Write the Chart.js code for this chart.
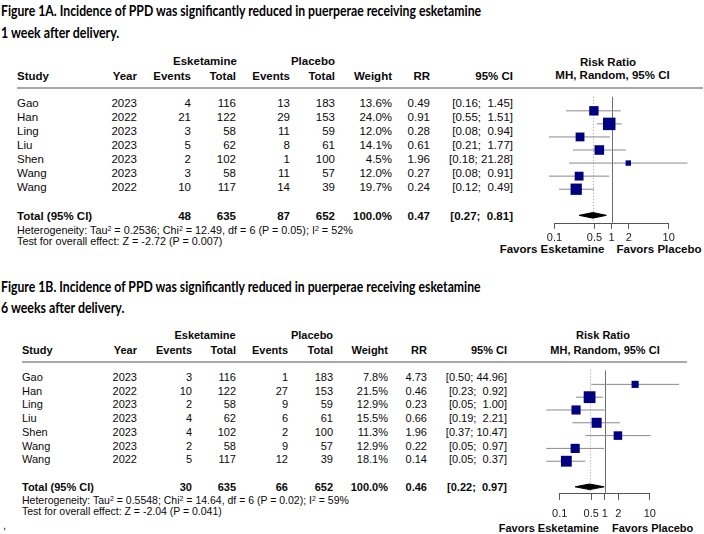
<!DOCTYPE html>
<html><head><meta charset="utf-8">
<script src="https://cdn.jsdelivr.net/npm/chart.js@4/dist/chart.umd.min.js"></script>
<style>
html,body{margin:0;padding:0;background:#fff;}
#page{position:relative;width:704px;height:534px;overflow:hidden;font-family:"Liberation Sans",Arial,sans-serif;font-size:11px;color:#0a0a0a;}
.t{position:absolute;white-space:pre;line-height:13px;}
.b{font-weight:bold;}
.tight{line-height:10px;}
.title{font-family:Lato,"Open Sans",sans-serif;font-weight:bold;font-size:16px;color:#000;transform-origin:0 50%;line-height:18px;}
sup{font-size:7px;line-height:0;vertical-align:3px;}
canvas{position:absolute;}
.rule{position:absolute;height:2px;background:#a8a8a8;}
</style></head><body><div id="page"></div>
<script>
// ---------- data ----------
const studies = ["Gao","Han","Ling","Liu","Shen","Wang","Wang"];
const years = [2023,2022,2023,2023,2023,2023,2022];
const esketTotal = [116,122,58,62,102,58,117];
const placeboTotal = [183,153,59,61,100,57,39];

// Figure 1A (1 week)
const esketEvents1 = [4,21,3,5,2,3,10];
const placeboEvents1 = [13,29,11,8,1,11,14];
const weight1 = [13.6,24.0,12.0,14.1,4.5,12.0,19.7];
const rr1 = [0.49,0.91,0.28,0.61,1.96,0.27,0.24];
const ciLow1 = [0.16,0.55,0.08,0.21,0.18,0.08,0.12];
const ciHigh1 = [1.45,1.51,0.94,1.77,21.28,0.91,0.49];
const totals1 = [48,635,87,652];
const pooled1 = [0.47,0.27,0.81];   // RR, low, high
const het1 = "Heterogeneity: Tau<sup>2</sup> = 0.2536; Chi<sup>2</sup> = 12.49, df = 6 (P = 0.05); I<sup>2</sup> = 52%";
const test1 = "Test for overall effect: Z = -2.72 (P = 0.007)";

// Figure 1B (6 weeks)
const esketEvents2 = [3,10,2,4,4,2,5];
const placeboEvents2 = [1,27,9,6,2,9,12];
const weight2 = [7.8,21.5,12.9,15.5,11.3,12.9,18.1];
const rr2 = [4.73,0.46,0.23,0.66,1.96,0.22,0.14];
const ciLow2 = [0.50,0.23,0.05,0.19,0.37,0.05,0.05];
const ciHigh2 = [44.96,0.92,1.00,2.21,10.47,0.97,0.37];
const totals2 = [30,635,66,652];
const pooled2 = [0.46,0.22,0.97];
const het2 = "Heterogeneity: Tau<sup>2</sup> = 0.5548; Chi<sup>2</sup> = 14.64, df = 6 (P = 0.02); I<sup>2</sup> = 59%";
const test2 = "Test for overall effect: Z = -2.04 (P = 0.041)";

const titles1 = ["Figure 1A. Incidence of PPD was significantly reduced in puerperae receiving esketamine","1 week after delivery."];
const titles2 = ["Figure 1B. Incidence of PPD was significantly reduced in puerperae receiving esketamine","6 weeks after delivery."];
const axisTicks = [0.1,0.5,1,2,10];
const tickLabels = ["0.1","0.5","1","2","10"];
const favorLabels = ["Favors Esketamine","Favors Placebo"];

// ---------- layout ----------
const layoutA = {font:11.5, noteFont:10.8, titleY:[10,32], titleW:[480,118], groupY:61, headY:76, ruleY:88, ruleX:[17,703],
  row0:103, rowH:14, totalY:216, hetY:229.5, testY:240.5, favY:249,
  col:{study:17, year:137, ee:191, et:236, pe:290, pt:335, w:392, rr:430, ci:513},
  groupX:[205,313], rrTitleX:608, rrTitleY:62, mhY:75, nullPx:612.5, decadePx:62.5, axisPx:223,
  tickLen:6, tickPad:3, favGap:[8,4]};
const layoutB = {font:11, noteFont:10.5, titleY:[286,307], titleW:[480,123], groupY:335, headY:350, ruleY:362, ruleX:[22,687],
  row0:377, rowH:13.7, totalY:487, hetY:500, testY:511, favY:528,
  col:{study:22, year:137, ee:192, et:236, pe:288, pt:333, w:388, rr:427, ci:507},
  groupX:[205,312], rrTitleX:603, rrTitleY:335, mhY:350, nullPx:605, decadePx:49, axisPx:493,
  tickLen:7, tickPad:8, favGap:[6,7]};

const page = document.getElementById('page');
function txt(x, y, s, opt={}) {
  const d = document.createElement('div');
  d.className = 't' + (opt.bold ? ' b' : '') + (opt.cls ? ' ' + opt.cls : '');
  if (opt.html) d.innerHTML = s; else d.textContent = s;
  if (opt.size) d.style.fontSize = opt.size + 'px';
  d.style.left = x + 'px'; d.style.top = y + 'px';
  const tx = opt.align === 'right' ? '-100%' : opt.align === 'center' ? '-50%' : '0';
  d.style.transform = `translate(${tx},-50%)`;
  page.appendChild(d);
  return d;
}
function title(x, y, s, w) {
  const d = txt(x, y, s, {cls:'title'});
  const k = w / d.offsetWidth;
  d.style.transform = `translate(0,-50%) scaleX(${k})`;
}
function rule(L) {
  const d = document.createElement('div');
  d.className = 'rule';
  d.style.left = L.ruleX[0] + 'px'; d.style.top = (L.ruleY - 1) + 'px';
  d.style.width = (L.ruleX[1] - L.ruleX[0]) + 'px';
  page.appendChild(d);
}
const f2 = v => v.toFixed(2);
const ciStr = (lo, hi) => '[' + f2(lo) + '; ' + f2(hi).padStart(5, ' ') + ']';

function figure(L, titles, eE, eP, w, rr, lo, hi, totals, pooled, het, test) {
  title(1, L.titleY[0], titles[0], L.titleW[0]);
  title(1, L.titleY[1], titles[1], L.titleW[1]);
  const c = L.col, fs = L.font;
  const T = (x, y, s, o={}) => txt(x, y, s, Object.assign({size:fs}, o));
  T(L.groupX[0], L.groupY, 'Esketamine', {bold:1, align:'center'});
  T(L.groupX[1], L.groupY, 'Placebo', {bold:1, align:'center'});
  T(L.rrTitleX, L.rrTitleY, 'Risk Ratio', {bold:1, align:'center'});
  T(L.nullPx, L.mhY, 'MH, Random, 95% CI', {bold:1, align:'center'});
  T(c.study, L.headY, 'Study', {bold:1});
  [['year','Year'],['ee','Events'],['et','Total'],['pe','Events'],['pt','Total'],['w','Weight'],['rr','RR'],['ci','95% CI']]
    .forEach(([k, s]) => T(c[k], L.headY, s, {bold:1, align:'right'}));
  rule(L);
  studies.forEach((s, i) => {
    const y = L.row0 + i * L.rowH;
    T(c.study, y, s);
    T(c.year, y, String(years[i]), {align:'right'});
    T(c.ee, y, String(eE[i]), {align:'right'});
    T(c.et, y, String(esketTotal[i]), {align:'right'});
    T(c.pe, y, String(eP[i]), {align:'right'});
    T(c.pt, y, String(placeboTotal[i]), {align:'right'});
    T(c.w, y, w[i].toFixed(1) + '%', {align:'right'});
    T(c.rr, y, f2(rr[i]), {align:'right'});
    T(c.ci, y, ciStr(lo[i], hi[i]), {align:'right'});
  });
  const ty = L.totalY;
  T(c.study, ty, 'Total (95% CI)', {bold:1});
  T(c.ee, ty, String(totals[0]), {bold:1, align:'right'});
  T(c.et, ty, String(totals[1]), {bold:1, align:'right'});
  T(c.pe, ty, String(totals[2]), {bold:1, align:'right'});
  T(c.pt, ty, String(totals[3]), {bold:1, align:'right'});
  T(c.w, ty, '100.0%', {bold:1, align:'right'});
  T(c.rr, ty, f2(pooled[0]), {bold:1, align:'right'});
  T(c.ci, ty, ciStr(pooled[1], pooled[2]), {bold:1, align:'right'});
  T(c.study, L.hetY, het, {html:1, cls:'tight', size:L.noteFont});
  T(c.study, L.testY, test, {cls:'tight', size:L.noteFont});
  T(L.nullPx - L.favGap[0], L.favY, favorLabels[0], {bold:1, align:'right'});
  T(L.nullPx + L.favGap[1], L.favY, favorLabels[1], {bold:1});

  // ----- forest plot through Chart.js -----
  const left = 500, width = 204;
  const axisH = L.tickLen + 2 * L.tickPad + 13.2;
  const cv = document.createElement('canvas');
  cv.width = width; cv.height = Math.round(L.axisPx - L.ruleY + axisH);
  cv.style.left = left + 'px'; cv.style.top = L.ruleY + 'px';
  page.appendChild(cv);
  const xMin = Math.pow(10, (left - L.nullPx) / L.decadePx);
  const xMax = Math.pow(10, (left + width - L.nullPx) / L.decadePx);
  const yMin = -(L.row0 - L.ruleY) / L.rowH;
  const yMax = (L.axisPx - L.row0) / L.rowH;
  const totalRow = studies.length + 1;
  const dh = 3 / L.rowH;

  const datasets = [];
  datasets.push({
    label:'RR', data: rr.map((v, i) => ({x:v, y:i})), showLine:false,
    pointStyle:'rect', backgroundColor:'#000080', borderColor:'#000080', borderWidth:0,
    pointRadius: ctx => 1.8 * Math.sqrt(w[ctx.dataIndex]), clip:false
  });
  datasets.push({
    label:'pooled', type:'line', data:[
      {x:pooled[1], y:totalRow}, {x:pooled[0], y:totalRow - dh}, {x:pooled[2], y:totalRow},
      {x:pooled[0], y:totalRow + dh}, {x:pooled[1], y:totalRow}],
    showLine:true, fill:'shape', backgroundColor:'#000', borderColor:'#000', borderWidth:1,
    pointRadius:0, tension:0, clip:false
  });
  rr.forEach((v, i) => datasets.push({
    label:'ci' + i, type:'line', data:[{x:lo[i], y:i}, {x:hi[i], y:i}], showLine:true,
    borderColor:'#8a8a8a', borderWidth:1, pointRadius:0, fill:false, clip:false
  }));

  const refLines = {
    id:'refLines',
    beforeDatasetsDraw(chart) {
      const {ctx, chartArea:a, scales:{x}} = chart;
      ctx.save();
      const px1 = Math.round(x.getPixelForValue(1)) + 0.5;
      ctx.strokeStyle = '#6e6e6e'; ctx.lineWidth = 1;
      ctx.beginPath(); ctx.moveTo(px1, a.top); ctx.lineTo(px1, a.bottom); ctx.stroke();
      const pp = Math.round(x.getPixelForValue(pooled[0])) + 0.5;
      ctx.strokeStyle = '#a0a0a0'; ctx.setLineDash([1, 2]);
      ctx.beginPath(); ctx.moveTo(pp, a.top); ctx.lineTo(pp, a.bottom); ctx.stroke();
      ctx.setLineDash([]);
      ctx.strokeStyle = '#555';
      const yb = Math.round(a.bottom) + 0.5;
      ctx.beginPath();
      ctx.moveTo(x.getPixelForValue(axisTicks[0]), yb);
      ctx.lineTo(x.getPixelForValue(axisTicks[axisTicks.length - 1]), yb);
      ctx.stroke();
      ctx.restore();
    }
  };

  new Chart(cv, {
    type:'scatter',
    data:{datasets},
    options:{
      responsive:false, animation:false, events:[],
      layout:{padding:0},
      plugins:{legend:{display:false}, tooltip:{enabled:false}},
      scales:{
        x:{type:'logarithmic', min:xMin, max:xMax, bounds:'data', position:'bottom',
          border:{display:false},
          grid:{drawOnChartArea:false, drawTicks:true, tickLength:L.tickLen, color:'#555', lineWidth:1},
          ticks:{font:{family:'Liberation Sans', size:11}, color:'#1a1a1a', padding:L.tickPad, autoSkip:false,
            maxRotation:0, callback:v => { const k = axisTicks.indexOf(v); return k < 0 ? '' : tickLabels[k]; }},
          afterBuildTicks: ax => { ax.ticks = axisTicks.map(v => ({value:v})); }
        },
        y:{type:'linear', min:yMin, max:yMax, reverse:true, display:false}
      }
    },
    plugins:[refLines]
  });
}

figure(layoutA, titles1, esketEvents1, placeboEvents1, weight1, rr1, ciLow1, ciHigh1, totals1, pooled1, het1, test1);
figure(layoutB, titles2, esketEvents2, placeboEvents2, weight2, rr2, ciLow2, ciHigh2, totals2, pooled2, het2, test2);
txt(3, 525, ',');
</script></body></html>
